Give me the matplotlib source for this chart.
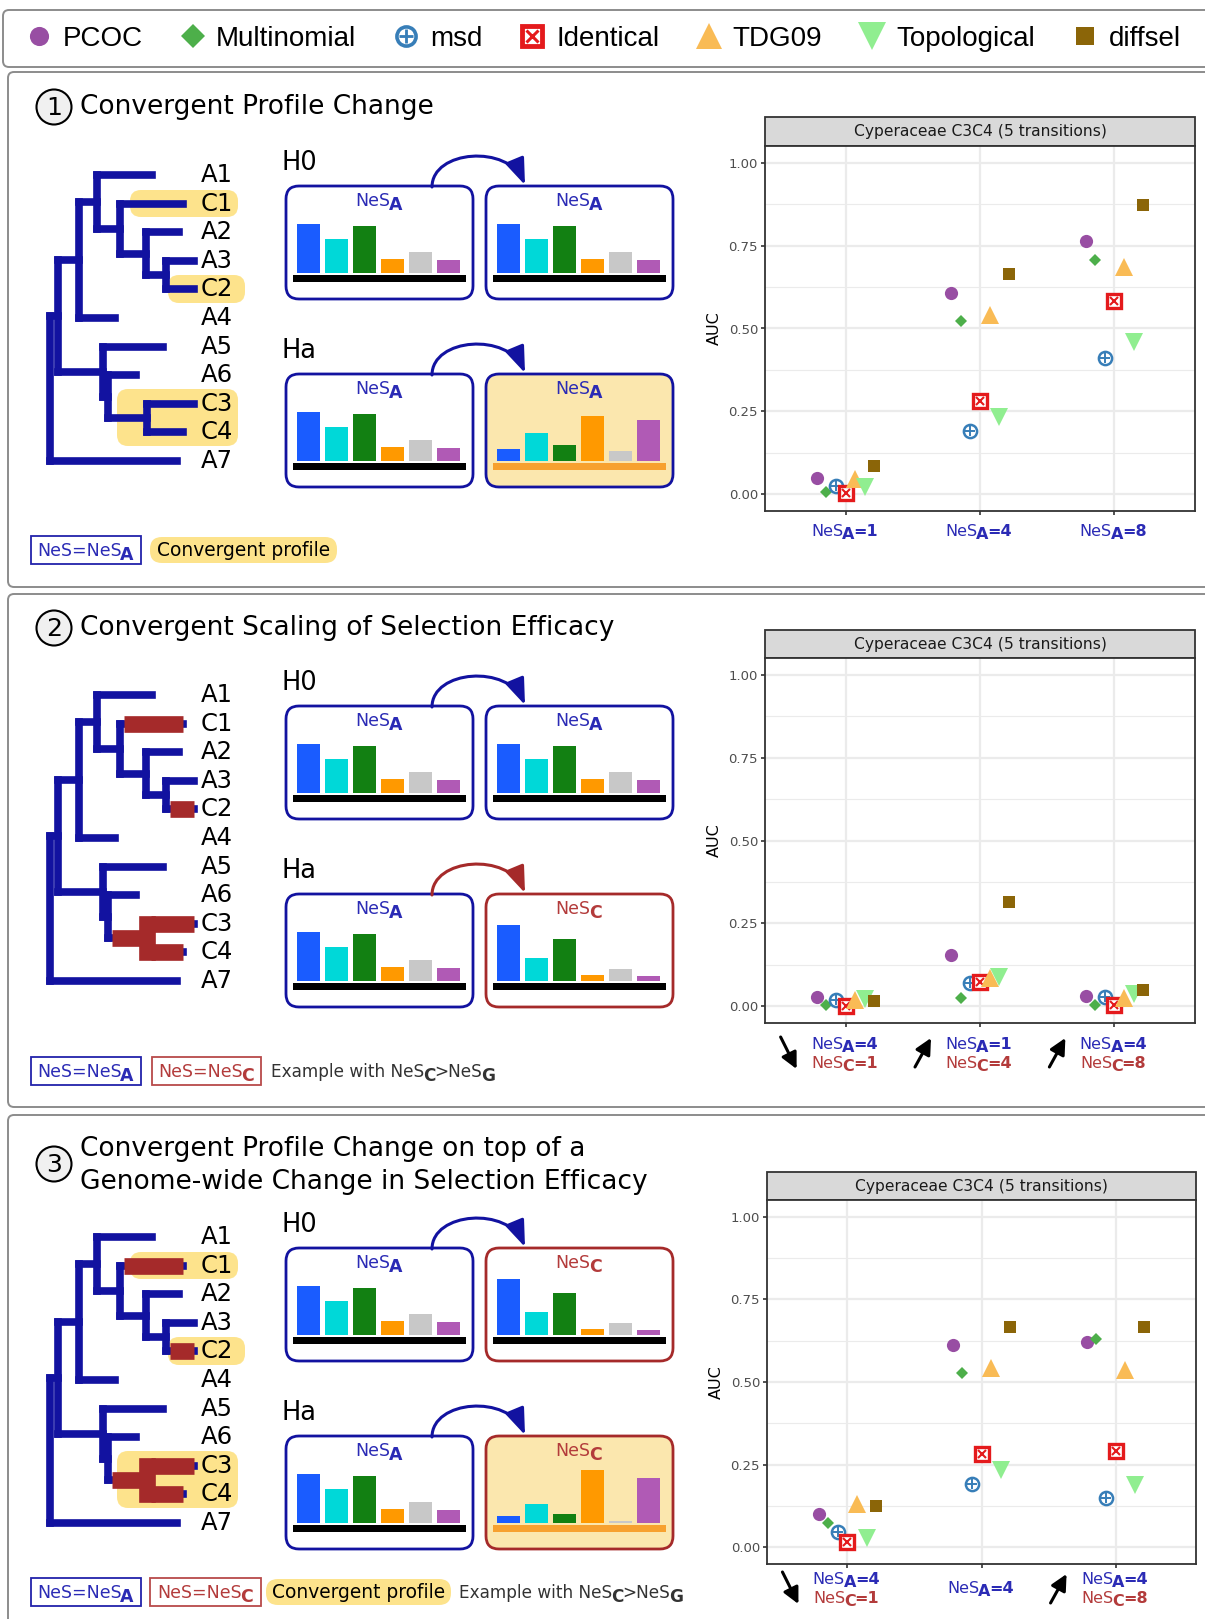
import numpy as np
import matplotlib
matplotlib.use("Agg")
import matplotlib.pyplot as plt
from matplotlib.patches import FancyBboxPatch, Rectangle, Circle, FancyArrowPatch
from matplotlib.path import Path
from matplotlib.lines import Line2D

plt.rcParams['font.family'] = ['DejaVu Sans']

W, H = 1205, 1619

methods = ["PCOC", "Multinomial", "msd", "Identical", "TDG09", "Topological", "diffsel"]

# AUC per method, one value per scenario (x categories)
auc1 = {
    "PCOC":        [0.050, 0.608, 0.764],
    "Multinomial": [0.008, 0.524, 0.706],
    "msd":         [0.026, 0.190, 0.410],
    "Identical":   [0.005, 0.282, 0.584],
    "TDG09":       [0.045, 0.540, 0.684],
    "Topological": [0.022, 0.232, 0.459],
    "diffsel":     [0.086, 0.663, 0.872],
}
auc2 = {
    "PCOC":        [0.028, 0.155, 0.030],
    "Multinomial": [0.003, 0.025, 0.003],
    "msd":         [0.020, 0.072, 0.027],
    "Identical":   [0.000, 0.075, 0.005],
    "TDG09":       [0.020, 0.085, 0.025],
    "Topological": [0.022, 0.088, 0.038],
    "diffsel":     [0.015, 0.315, 0.048],
}
auc3 = {
    "PCOC":        [0.100, 0.611, 0.621],
    "Multinomial": [0.074, 0.527, 0.629],
    "msd":         [0.047, 0.193, 0.149],
    "Identical":   [0.015, 0.283, 0.292],
    "TDG09":       [0.130, 0.541, 0.536],
    "Topological": [0.029, 0.233, 0.188],
    "diffsel":     [0.124, 0.666, 0.666],
}
nesa1 = [1, 4, 8]
nesa2 = [4, 1, 4]
nesc2 = [1, 4, 8]
nesa3 = [4, 4, 4]
nesc3 = [1, None, 8]

# sketched amino-acid profiles (bar heights)
prof_A = [49, 34, 47, 14, 21, 13]
prof_C = [56, 23, 42, 6, 12, 5]
prof_convA = [12, 28, 16, 45, 10, 41]
prof_convC = [7, 19, 9, 53, 2, 45]

leaves = ["A1", "C1", "A2", "A3", "C2", "A4", "A5", "A6", "C3", "C4", "A7"]

# colours
blue = '#1212a0'
red = '#a52a2a'
tblue = '#2b2bb5'
tred = '#b33b3b'
yellow = '#fde38c'
yfill = '#fbe7ae'
obase = '#f7a12f'
bar_cols = ['#1a5cff', '#00d8d8', '#128012', '#ff9900', '#c8c8c8', '#b05ab5']

def mk(name, k=1.0):
    if name == "PCOC":
        return [dict(marker='o', color='#984EA3', ms=9.5*k, mew=0)]
    if name == "Multinomial":
        return [dict(marker='D', color='#4DAF4A', ms=6 if k == 1 else 12, mew=0)]
    if name == "msd":
        return [dict(marker='o', mfc='white', mec='#377EB8', mew=1.8*k, ms=9.5*k),
                dict(marker='+', color='#377EB8', mew=1.4*k, ms=7*k)]
    if name == "Identical":
        return [dict(marker='s', mfc='white', mec='#E41A1C', mew=2.4*k, ms=9.5*k),
                dict(marker='x', color='#E41A1C', mew=1.5*k, ms=6*k)]
    if name == "TDG09":
        return [dict(marker='^', color='#F9BB55', ms=12.5*k, mew=0)]
    if name == "Topological":
        return [dict(marker='v', color='#90EE90', ms=13.5*k, mew=0)]
    return [dict(marker='s', color='#8B6508', ms=9*k, mew=0)]

fig = plt.figure(figsize=(W/100, H/100), dpi=100, facecolor='white')
ov = fig.add_axes([0, 0, 1, 1])
ov.set_xlim(0, W)
ov.set_ylim(H, 0)
ov.axis('off')
rend = fig.canvas.get_renderer()

def rich(x, yc, parts, ha='center', fs=12, col='black'):
    # parts: (string, bold?, drop in px); drawn one after another on a common baseline
    base = yc + 0.36*fs*100/72
    texts = []
    for s, bold, dy in parts:
        texts.append(ov.text(0, base+dy, s, fontsize=fs, fontweight='bold' if bold else 'normal',
                             color=col, ha='left', va='baseline', zorder=5))
    ws = [t.get_window_extent(rend).width for t in texts]
    x0 = x - sum(ws)/2 if ha == 'center' else x
    for (s, bold, dy), t, w in zip(parts, texts, ws):
        kern = -1.2 if dy else 0
        t.set_x(x0 + kern)
        x0 += w + 2*kern

# top legend
ov.add_patch(FancyBboxPatch((3, 10), 1230, 57, boxstyle='round,pad=0,rounding_size=6',
                            fc='white', ec='#8c8c8c', lw=1.4))
handles = [tuple(Line2D([], [], ls='none', **kw) for kw in mk(m, 1.45)) for m in methods]
fig.legend(handles, methods, loc='center left', bbox_to_anchor=(25/W, 1-39/H), ncol=7,
           frameon=False, prop={'family': 'Liberation Sans', 'size': 20},
           handlelength=1.0, handletextpad=0.35, columnspacing=1.3, borderpad=0, borderaxespad=0)

# panel frames
for top, bot in [(72, 587), (594, 1107), (1115, 1660)]:
    ov.add_patch(FancyBboxPatch((8, top), 1230, bot-top, boxstyle='round,pad=0,rounding_size=6',
                                fc='white', ec='#8c8c8c', lw=1.4))

# tree: (name, x, children), children listed before parents
tips = [152, 183, 179, 194, 194, 115, 163, 136, 194, 183, 177]
nodes = [("n1", 166, ["A3", "C2"]), ("n2", 146, ["A2", "n1"]), ("n3", 120, ["C1", "n2"]),
         ("n4", 97, ["A1", "n3"]), ("n5", 79, ["n4", "A4"]), ("n6", 147, ["C3", "C4"]),
         ("n7", 108, ["A6", "n6"]), ("n8", 103, ["A5", "n7"]), ("n9", 58, ["n5", "n8"]),
         ("root", 50, ["n9", "A7"])]
red_set = {"C1", "C2", "C3", "C4", "n6"}

def draw_tree(y0, red_mode, highlight):
    ypos = {n: y0 + 175 + i*28.6 for i, n in enumerate(leaves)}
    xpos = dict(zip(leaves, tips))
    if highlight:
        for (x0, x1, ya, yb) in [(130, 238, 190, 217), (168, 245, 275, 303), (117, 238, 389, 446)]:
            ov.add_patch(FancyBboxPatch((x0, y0+ya), x1-x0, yb-ya,
                                        boxstyle='round,pad=0,rounding_size=11',
                                        fc=yellow, ec='none', zorder=1))
    for name, x, kids in nodes:
        ys = [ypos[k] for k in kids]
        ypos[name] = sum(ys)/2
        for k in kids:
            ov.plot([x, xpos[k]], [ypos[k]]*2, color=blue, lw=5.5, solid_capstyle='projecting', zorder=2)
            if red_mode and k in red_set:
                ov.plot([x+3.5, xpos[k]], [ypos[k]]*2, color=red, lw=12, solid_capstyle='butt', zorder=3)
        ov.plot([x, x], [min(ys), max(ys)], color=blue, lw=5.5, solid_capstyle='projecting', zorder=2)
        if red_mode and name == "n6":
            ov.plot([x, x], [min(ys), max(ys)], color=red, lw=12, solid_capstyle='projecting', zorder=3)
        xpos[name] = x
    for n in leaves:
        ov.text(201, ypos[n], n, ha='left', va='center', fontsize=17.5, zorder=4)

def draw_box(x, y, edge, sub, bars, base, fill='white'):
    ov.add_patch(FancyBboxPatch((x, y), 187, 113, boxstyle='round,pad=0,rounding_size=13',
                                fc=fill, ec=edge, lw=2.0, zorder=2))
    tc = tblue if sub == 'A' else tred
    rich(x+93.5, y+14, [("NeS", False, 0), (sub, True, 4)], fs=12.5, col=tc)
    xs = x + 11 + 28*np.arange(len(bars))
    ov.bar(xs, -np.array(bars), bottom=y+87, width=23, align='edge', color=bar_cols, zorder=3)
    ov.add_patch(Rectangle((x+7, y+89), 173, 7, fc=base, ec='none', zorder=3))

def draw_arrow(x, y, color):
    verts = [(x+146, y+1), (x+146, y-36), (x+222, y-42), (x+239, y-1)]
    p = Path(verts, [Path.MOVETO, Path.CURVE4, Path.CURVE4, Path.CURVE4])
    ov.add_patch(FancyArrowPatch(path=p, arrowstyle='-|>,head_length=0.8,head_width=0.3',
                                 mutation_scale=20, lw=2.2, color=color, zorder=4))

def title(cy, num, lines):
    ov.add_patch(Circle((54, cy), 17.5, fc='#f0f0f0', ec='black', lw=1.5))
    ov.text(54, cy+1, num, ha='center', va='center', fontsize=18)
    if len(lines) == 1:
        ov.text(80, cy, lines[0], ha='left', va='center', fontsize=19)
    else:
        ov.text(80, cy-15, lines[0], ha='left', va='center', fontsize=19)
        ov.text(80, cy+18, lines[1], ha='left', va='center', fontsize=19)

def tag(x0, x1, yc, ec, sub, tc):
    ov.add_patch(Rectangle((x0, yc-14), x1-x0, 28, fill=False, ec=ec, lw=1.3))
    rich((x0+x1)/2, yc, [("NeS=NeS", False, 0), (sub, True, 4)], fs=12.5, col=tc)

def pill(x0, x1, yc):
    ov.add_patch(FancyBboxPatch((x0, yc-13), x1-x0, 26, boxstyle='round,pad=0,rounding_size=12',
                                fc=yellow, ec='none'))
    ov.text((x0+x1)/2, yc, 'Convergent profile', ha='center', va='center', fontsize=13.4)

def example(x, yc):
    rich(x, yc, [("Example with NeS", False, 0), ("C", True, 4), (">NeS", False, 0), ("G", True, 4)],
         ha='left', fs=12.2, col='#333333')

def hyp(y0):
    ov.text(281, 163+y0, 'H0', ha='left', va='center', fontsize=18.5)
    ov.text(281, 351+y0, 'Ha', ha='left', va='center', fontsize=18.5)

# ---- panel 1
title(107, '1', ["Convergent Profile Change"])
draw_tree(0, False, True)
hyp(0)
draw_box(286, 186, blue, 'A', prof_A, 'black')
draw_box(486, 186, blue, 'A', prof_A, 'black')
draw_arrow(286, 186, blue)
draw_box(286, 374, blue, 'A', prof_A, 'black')
draw_box(486, 374, blue, 'A', prof_convA, obase, fill=yfill)
draw_arrow(286, 374, blue)
tag(31, 141, 550, '#2222aa', 'A', tblue)
pill(150, 337, 550)

# ---- panel 2
y2 = 520
title(628, '2', ["Convergent Scaling of Selection Efficacy"])
draw_tree(y2, True, False)
hyp(y2)
draw_box(286, 186+y2, blue, 'A', prof_A, 'black')
draw_box(486, 186+y2, blue, 'A', prof_A, 'black')
draw_arrow(286, 186+y2, blue)
draw_box(286, 374+y2, blue, 'A', prof_A, 'black')
draw_box(486, 374+y2, red, 'C', prof_C, 'black')
draw_arrow(286, 374+y2, red)
tag(31, 141, 1071, '#2222aa', 'A', tblue)
tag(152, 261, 1071, '#b84a4a', 'C', tred)
example(271, 1071)

# ---- panel 3
y3 = 1062
title(1164, '3', ["Convergent Profile Change on top of a", "Genome-wide Change in Selection Efficacy"])
draw_tree(y3, True, True)
hyp(y3)
draw_box(286, 186+y3, blue, 'A', prof_A, 'black')
draw_box(486, 186+y3, red, 'C', prof_C, 'black')
draw_arrow(286, 186+y3, blue)
draw_box(286, 374+y3, blue, 'A', prof_A, 'black')
draw_box(486, 374+y3, red, 'C', prof_convC, obase, fill=yfill)
draw_arrow(286, 374+y3, blue)
tag(31, 141, 1592, '#2222aa', 'A', tblue)
tag(150, 261, 1592, '#b84a4a', 'C', tred)
pill(266, 451, 1592)
example(459, 1592)

# ---- AUC panels
def auc_panel(l, t, r, b, st, auc):
    ov.add_patch(Rectangle((l, st), r-l, t-st, fc='#d9d9d9', ec='#333333', lw=1.3))
    ov.text((l+r)/2, (st+t)/2, 'Cyperaceae C3C4 (5 transitions)', ha='center', va='center',
            fontsize=11.2, color='#1a1a1a')
    ax = fig.add_axes([l/W, 1-b/H, (r-l)/W, (b-t)/H])
    ax.set_xlim(0.4, 3.6)
    ax.set_ylim(-0.05, 1.05)
    ax.set_xticks([1, 2, 3])
    ax.set_xticklabels([])
    ax.set_yticks([0, .25, .5, .75, 1])
    ax.set_yticklabels(['0.00', '0.25', '0.50', '0.75', '1.00'])
    ax.set_yticks([.125, .375, .625, .875], minor=True)
    ax.tick_params(which='major', direction='out', length=3, width=1.2, color='#333333',
                   labelsize=9.5, labelcolor='#4d4d4d', pad=2)
    ax.tick_params(which='minor', length=0)
    ax.grid(which='major', color='#ebebeb', lw=1.6)
    ax.grid(which='minor', axis='y', color='#ebebeb', lw=0.8)
    ax.set_axisbelow(True)
    for s in ax.spines.values():
        s.set_color('#333333')
        s.set_linewidth(1.3)
    ax.set_ylabel('AUC', fontsize=11.5, labelpad=5)
    cats = np.arange(1, 4)
    for i, m in enumerate(methods):
        xs = cats + (i-3)*0.5/7
        for kw in mk(m):
            ax.plot(xs, auc[m], ls='none', zorder=3+i*0.1, clip_on=False, **kw)
    return ax

def catx(j, l, r):
    return l + (j-0.4)/3.2*(r-l)

def cat_label(x, yc, s, v, col):
    rich(x, yc, [("NeS", False, 0), (s, True, 3.5), ("=%d" % v, True, 0)], fs=11.5, col=col)

def trend_arrow(xc, ya, yb):
    ov.annotate('', xy=(xc+8, yb), xytext=(xc-8, ya),
                arrowprops=dict(arrowstyle='-|>,head_length=0.6,head_width=0.3', color='black',
                                lw=2.2, mutation_scale=16, shrinkA=0, shrinkB=0))

auc_panel(765, 146, 1195, 511, 117, auc1)
for j, v in enumerate(nesa1):
    cat_label(catx(j+1, 765, 1195), 530, 'A', v, tblue)

auc_panel(765, 658, 1195, 1023, 630, auc2)
for j in range(3):
    xc = catx(j+1, 765, 1195)
    cat_label(xc, 1043, 'A', nesa2[j], tblue)
    cat_label(xc, 1062, 'C', nesc2[j], tred)
    if nesc2[j] < nesa2[j]:
        trend_arrow(xc-57, 1037, 1069)
    else:
        trend_arrow(xc-57, 1067, 1038)

auc_panel(767, 1200, 1196, 1564, 1172, auc3)
for j in range(3):
    xc = catx(j+1, 767, 1196)
    if nesc3[j] is None:
        cat_label(xc, 1587, 'A', nesa3[j], tblue)
        continue
    cat_label(xc, 1578, 'A', nesa3[j], tblue)
    cat_label(xc, 1597, 'C', nesc3[j], tred)
    if nesc3[j] < nesa3[j]:
        trend_arrow(xc-57, 1572, 1604)
    else:
        trend_arrow(xc-57, 1603, 1574)

fig.savefig('out.png', dpi=100)
